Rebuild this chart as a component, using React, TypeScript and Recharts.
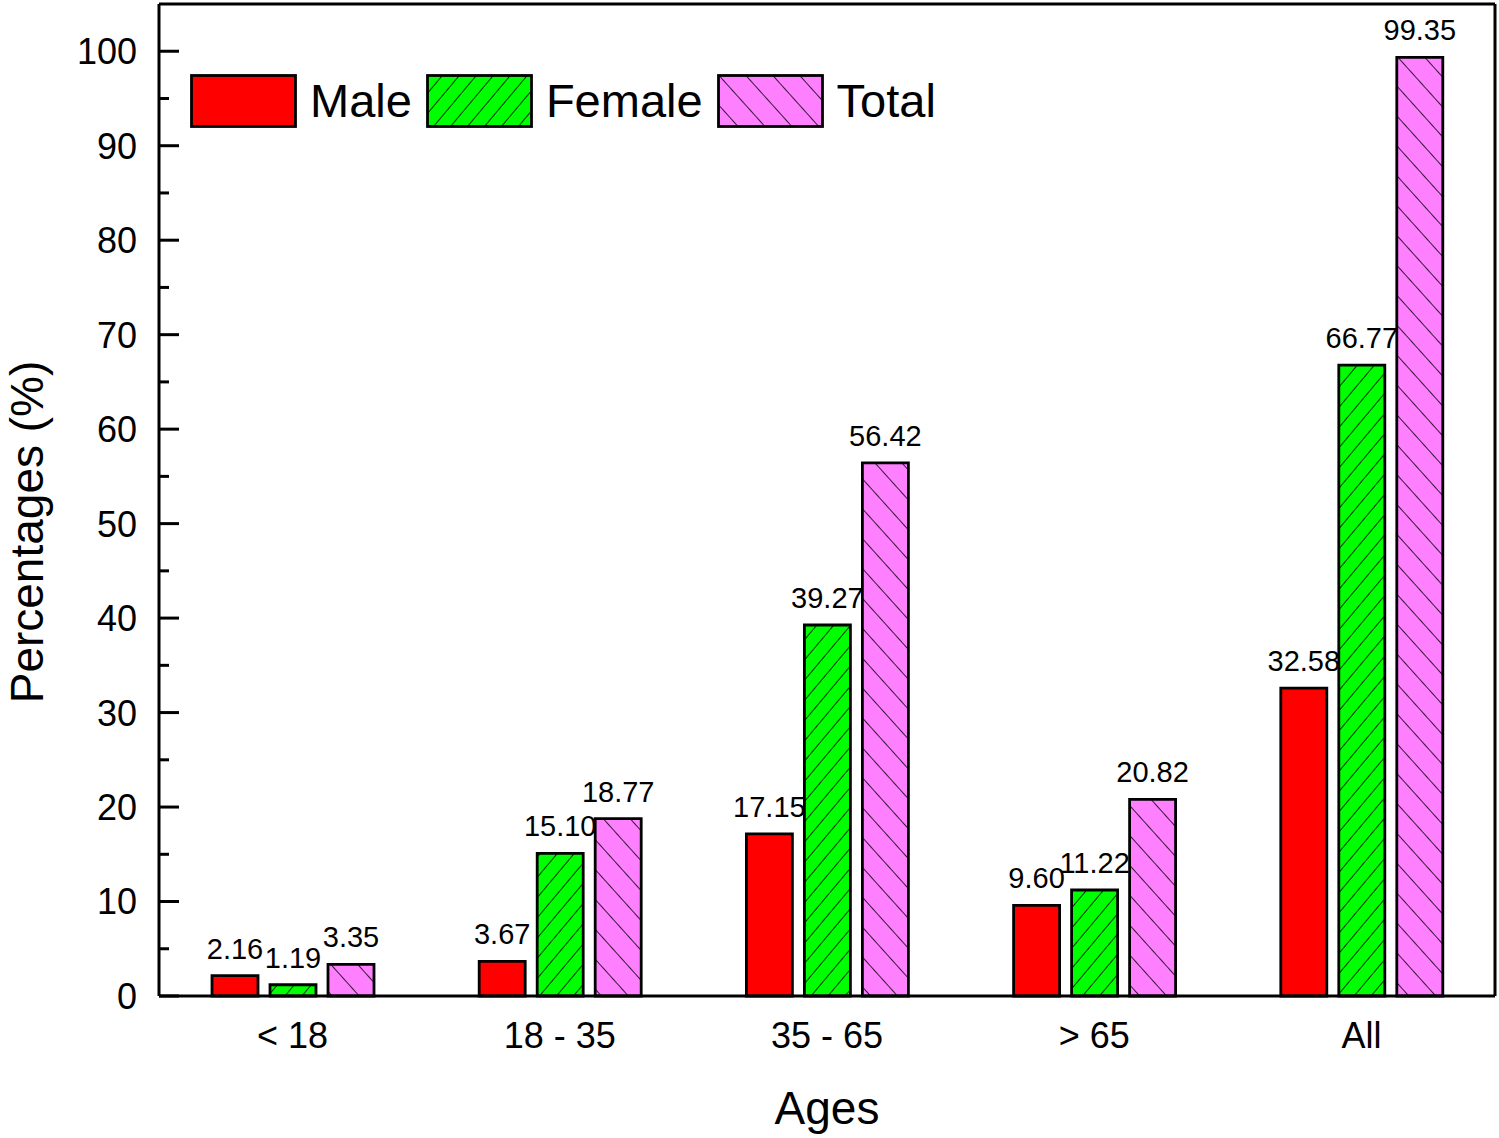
import { BarChart, Bar, XAxis, YAxis, LabelList, Legend } from "recharts";

const ageGroups = ["< 18", "18 - 35", "35 - 65", "> 65", "All"];
const maleValues = [2.16, 3.67, 17.15, 9.6, 32.58];
const femaleValues = [1.19, 15.1, 39.27, 11.22, 66.77];
const totalValues = [3.35, 18.77, 56.42, 20.82, 99.35];
const yTicks = [0, 5, 10, 15, 20, 25, 30, 35, 40, 45, 50, 55, 60, 65, 70, 75, 80, 85, 90, 95, 100];
const seriesNames = ["Male", "Female", "Total"];

const FONT = '"Liberation Sans", Arial, Helvetica, sans-serif';

const data = ageGroups.map((age, i) => ({
  age,
  Male: maleValues[i],
  Female: femaleValues[i],
  Total: totalValues[i],
}));

const fills: Record<string, string> = {
  Male: "#ff0000",
  Female: "url(#hatchGreen)",
  Total: "url(#hatchPink)",
};

function Patterns({ suffix = "" }: { suffix?: string }) {
  return (
    <defs>
      <pattern
        id={`hatchGreen${suffix}`}
        patternUnits="userSpaceOnUse"
        width={13}
        height={13}
        patternTransform="rotate(40)"
      >
        <rect width={13} height={13} fill="#00ff00" />
        <line x1={0} y1={0} x2={0} y2={13} stroke="#000" strokeWidth={1.6} />
      </pattern>
      <pattern
        id={`hatchPink${suffix}`}
        patternUnits="userSpaceOnUse"
        width={20}
        height={20}
        patternTransform="rotate(-42)"
      >
        <rect width={20} height={20} fill="#ff80ff" />
        <line x1={0} y1={0} x2={0} y2={20} stroke="#000" strokeWidth={1.6} />
      </pattern>
    </defs>
  );
}

const YTick = (props: any) => {
  const { x, y, payload } = props;
  const v = payload.value;
  const major = v % 10 === 0;
  const axisX = x + 22;
  return (
    <g>
      <line
        x1={axisX}
        x2={axisX + (major ? 20 : 10)}
        y1={y}
        y2={y}
        stroke="#000"
        strokeWidth={3}
      />
      {major && (
        <text
          x={x}
          y={y}
          dy="0.36em"
          textAnchor="end"
          fontSize={36}
          fontFamily={FONT}
          fill="#000"
        >
          {v}
        </text>
      )}
    </g>
  );
};

const LegendContent = () => (
  <div style={{ display: "flex", alignItems: "center", fontFamily: FONT }}>
    {seriesNames.map((name) => (
      <div key={name} style={{ display: "flex", alignItems: "center", marginRight: 14 }}>
        <svg width={107} height={54} style={{ display: "block" }}>
          <Patterns suffix="Lg" />
          <rect
            x={1.5}
            y={1.5}
            width={104}
            height={51}
            fill={name === "Male" ? "#ff0000" : `url(#hatch${name === "Female" ? "Green" : "Pink"}Lg)`}
            stroke="#000"
            strokeWidth={2.8}
          />
        </svg>
        <span style={{ fontSize: 47, marginLeft: 13, color: "#000", lineHeight: "54px" }}>
          {name}
        </span>
      </div>
    ))}
  </div>
);

const axisLine = { stroke: "#000", strokeWidth: 3 };

export default function App() {
  return (
    <div
      style={{
        position: "absolute",
        left: 0,
        top: 0,
        width: 1499,
        height: 1138,
        background: "#fff",
      }}
    >
      <BarChart
        width={1499}
        height={1138}
        data={data}
        margin={{ top: 3, right: 3, bottom: 0, left: 0 }}
        barSize={46}
        barGap={12}
      >
        <Patterns />
        <XAxis
          dataKey="age"
          interval={0}
          tickLine={false}
          tickSize={0}
          tickMargin={26}
          height={142}
          axisLine={axisLine}
          tick={{ fill: "#000", fontSize: 36, fontFamily: FONT }}
          label={{
            value: "Ages",
            position: "insideBottom",
            offset: 14,
            fontSize: 46,
            fontFamily: FONT,
            fill: "#000",
          }}
        />
        <XAxis
          xAxisId="top"
          orientation="top"
          dataKey="age"
          tick={false}
          tickLine={false}
          height={1}
          axisLine={axisLine}
        />
        <YAxis
          domain={[0, 105]}
          ticks={yTicks}
          interval={0}
          width={159}
          tickLine={false}
          tickSize={0}
          tickMargin={22}
          axisLine={axisLine}
          tick={<YTick />}
          label={{
            content: () => (
              <text
                x={27}
                y={532}
                transform="rotate(-90, 27, 532)"
                textAnchor="middle"
                dominantBaseline="central"
                fontSize={46}
                fontFamily={FONT}
                fill="#000"
              >
                Percentages (%)
              </text>
            ),
          }}
        />
        <YAxis
          yAxisId="right"
          orientation="right"
          domain={[0, 105]}
          width={1}
          tick={false}
          tickLine={false}
          axisLine={axisLine}
        />
        <Legend
          layout="horizontal"
          verticalAlign="middle"
          align="center"
          content={<LegendContent />}
          wrapperStyle={{ position: "absolute", left: 190, top: 74, width: "auto" }}
        />
        {seriesNames.map((name) => (
          <Bar
            key={name}
            dataKey={name}
            fill={fills[name]}
            stroke="#000"
            strokeWidth={2.8}
            isAnimationActive={false}
          >
            <LabelList
              dataKey={name}
              position="top"
              offset={17}
              formatter={(v: any) => Number(v).toFixed(2)}
              fill="#000"
              fontSize={29}
              fontFamily={FONT}
            />
          </Bar>
        ))}
      </BarChart>
    </div>
  );
}
